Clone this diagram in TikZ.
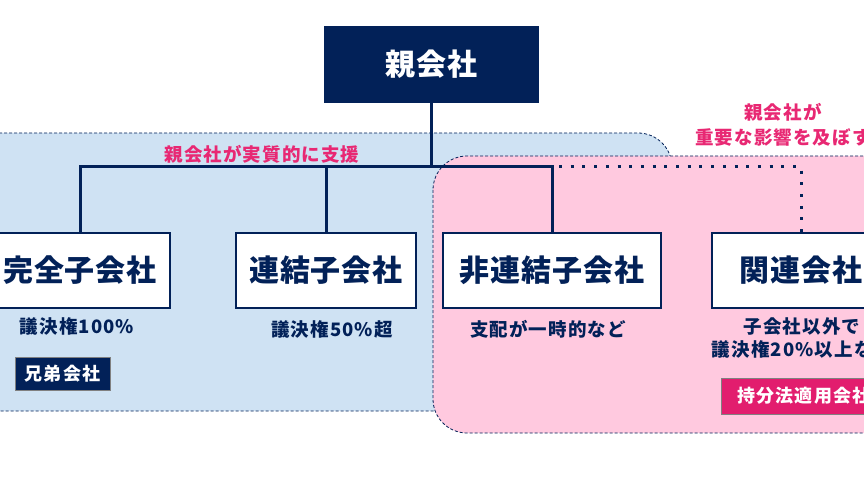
\documentclass[tikz,border=0pt]{standalone}
\usepackage{fontspec}
\setmainfont{Noto Sans CJK JP}
\usepackage{xcolor}
\usepackage{tikz}
\usetikzlibrary{positioning}
\definecolor{navy}{RGB}{2,33,88}
\definecolor{skyfill}{RGB}{207,226,243}
\definecolor{rosefill}{RGB}{255,201,223}
\definecolor{rosetext}{RGB}{232,40,115}
\definecolor{tagrose}{RGB}{226,29,110}

\begin{document}
\begin{tikzpicture}[x=1pt, y=-1pt, thick]
\tikzset{box/.style={draw=navy, line width=1.3pt, fill=white, text=navy, minimum height=75pt, inner sep=0pt, font=\bfseries\fontsize{30}{31}\selectfont\addfontfeatures{LetterSpace=3}}}
\tikzset{note/.style={text=navy, inner sep=0pt, align=center, font=\bfseries\fontsize{18.5}{23}\selectfont\addfontfeatures{LetterSpace=6}}}
\tikzset{pinknote/.style={text=rosetext, inner sep=0pt, align=center, font=\bfseries\fontsize{18.5}{25}\selectfont\addfontfeatures{LetterSpace=6}}}
\tikzset{tag/.style={text=white, inner sep=0pt, font=\bfseries\fontsize{18}{19}\selectfont\addfontfeatures{LetterSpace=7}}}
\tikzset{tree/.style={draw=navy, line width=3pt}}
\tikzset{zone/.style={draw=navy, line width=0.8pt, dash pattern=on 3pt off 2pt, rounded corners=34pt}}
\useasboundingbox (0,0) rectangle (864,486);
\clip (0,0) rectangle (864,486);
% zones
\draw[zone, fill=skyfill] (-40,133) rectangle (672,411);
\draw[zone, fill=rosefill] (433,156) rectangle (920,433);
% boxes
\node[box, fill=navy, text=white, minimum width=213pt] (parent) at (431.5,64.5) {親会社};
\node[box, minimum width=180pt] (full) at (80,270.5) {完全子会社};
\node[box, minimum width=180pt] (cons) at (326,270.5) {連結子会社};
\node[box, minimum width=218pt] (noncons) at (552,270.5) {非連結子会社};
\node[box, minimum width=178pt] (assoc) at (801,270.5) {関連会社};
\coordinate (fork) at (parent.south |- 0,167);
% tree
\draw[tree] (parent) -- (fork);
\draw[tree] (fork) -| (full.north);
\draw[tree] (fork) -| (cons.north);
\draw[tree] (fork) -| (noncons.north);
\draw[navy, line width=3pt, dash pattern=on 3pt off 8.7pt] ([xshift=7pt]noncons.north |- fork) -| (assoc.north);
% labels
\node[pinknote] (support) at (262,154) {親会社が実質的に支援};
\node[pinknote] (influence) at (783,125) {親会社が\\重要な影響を及ぼす};
\node[note] (ratio100) at (77,326) {議決権100\%};
\node[note] (ratio50) at (332,329) {議決権50\%超};
\node[note] (temporary) at (548,329) {支配が一時的など};
\node[note] (ratio20) at (802,338) {子会社以外で\\議決権20\%以上など};
\node[tag, fill=navy, draw=gray, minimum width=95pt, minimum height=33pt] (sibling) at (62.5,373.5) {兄弟会社};
\node[tag, fill=tagrose, draw=gray, minimum width=166pt, minimum height=36pt] (equity) at (804,396) {持分法適用会社};
\end{tikzpicture}
\end{document}
